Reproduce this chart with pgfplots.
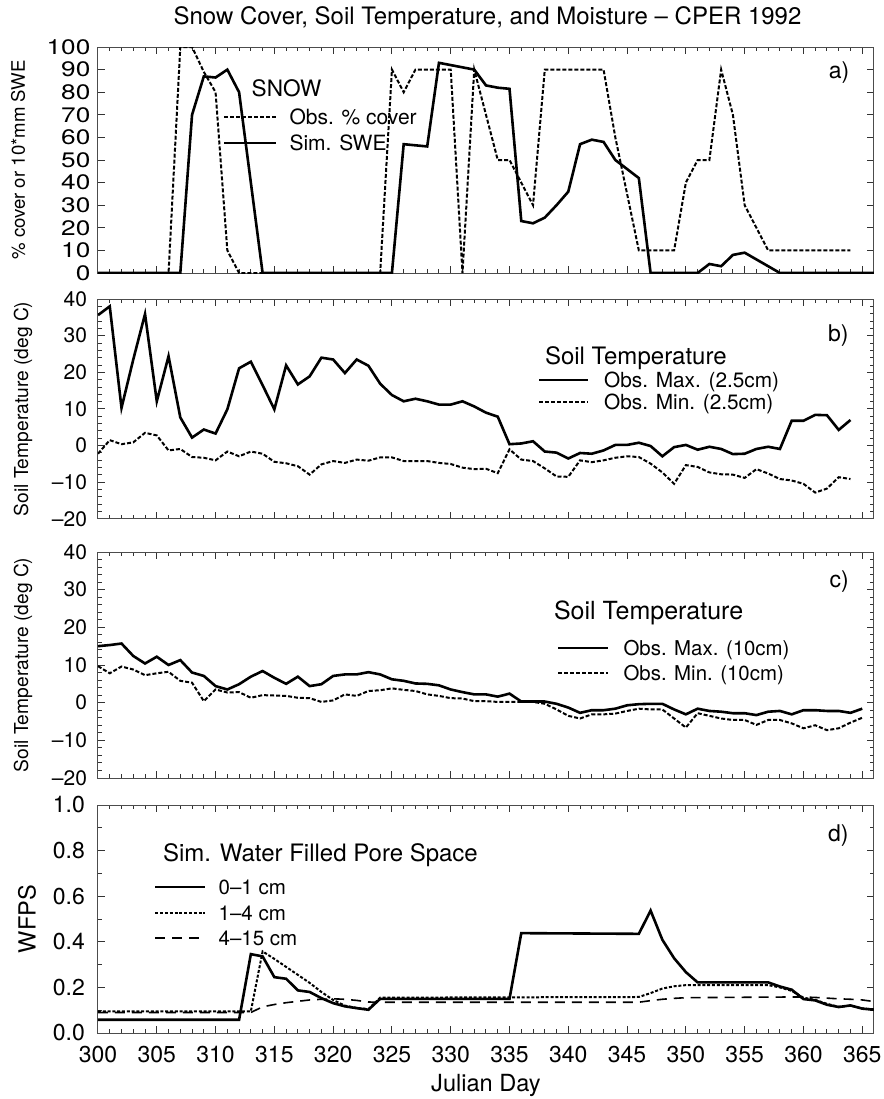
\documentclass[border=0pt]{standalone}
\usepackage{fontspec}
\setmainfont{TeX Gyre Heros}
\usepackage{pgfplots}
\pgfplotsset{compat=1.18}
\newcommand{\fs}[1]{\fontsize{#1}{#1}\selectfont}
\pgfplotsset{
  panel/.style={
    scale only axis, width=388pt,
    xmin=300, xmax=366,
    xtick={300,305,...,365}, minor x tick num=4,
    tick align=inside,
    major tick length=3.5pt, minor tick length=1.8pt,
    axis line style={black!70, line width=0.5pt},
    every tick/.style={black!80, line width=0.5pt},
    /pgf/number format/assume math mode=true,
    legend cell align=left,
  },
  leg/.style n args={4}{% x, y, rowsep, font
    legend style={draw=none, fill=none, inner sep=0pt, outer sep=0pt,
      row sep=#3, column sep=0pt, at={(#1,#2)}, anchor=north west,
      font=#4, nodes={inner sep=0pt, text height=7.5pt, text depth=0pt}},
  },
  solidl/.style={black, line width=1.3pt},
  dashl/.style={black, line width=1pt, dash pattern=on 2pt off 1pt},
}
\begin{document}
\begin{tikzpicture}
\useasboundingbox (-49pt,23.5pt) rectangle (393pt,-526pt);
\node[font=\fs{12}] at (194.75pt,14.5pt) {Snow Cover, Soil Temperature, and Moisture – CPER 1992};

% ---------------- a) ----------------
\begin{axis}[panel, at={(0pt,0pt)}, anchor=north west, height=113pt,
  ymin=0, ymax=100, ytick={0,10,...,100}, xticklabels={},
  yticklabel style={font=\fs{10.5}, xscale=1.25, inner ysep=0pt, xshift=0.5pt},
  ylabel={\% cover or 10*mm SWE}, ylabel style={font=\fs{9.3}, at={(axis description cs:-0.103,0.5)}, anchor=center},
  leg={0.161}{0.723}{5.5pt}{\fs{10.5}},
  legend image code/.code={\draw[#1] (0pt,0pt) -- (26pt,0pt); \path (0pt,0pt) (32pt,0pt);},
]
\addplot[dashl] table {
300 0
306 0
307 100
308 100
309 89
310 80
311 10
312 0
324 0
325 90
326 80
327 90
330 90
331 0
332 90
333 70
334 50
335 50
336 40
337 30
338 90
343 90
344 60
345 35
346 10
349 10
350 40
351 50
352 50
353 90
354 70
355 30
356 20
357 10
364 10
};
\addlegendentry{Obs. \% cover}
\addplot[solidl] table {
300 0
307 0
308 70
309 87
310 86.5
311 90
312 80
313 40
314 0
325 0
326 57
327 56.5
328 56
329 93
330 92
331 91
332 90
333 83
334 82
335 81.5
336 23
337 22
338 24.5
339 30
340 36
341 57
342 59
343 58
344 50
345 46
346 42
347 0
351 0
352 4
353 3
354 8
355 9
356 6
357 3
358 0
366 0
};
\addlegendentry{Sim. SWE}
\node[font=\fs{11.3}, anchor=west] at (rel axis cs:0.189,0.816) {SNOW};
\node[font=\fs{11.5}] at (rel axis cs:0.955,0.889) {a)};
\end{axis}

% ---------------- b) ----------------
\begin{axis}[panel, at={(0pt,-126pt)}, anchor=north west, height=110pt,
  ymin=-20, ymax=40, ytick={-20,-10,...,40}, yticklabels={–20,–10,0,10,20,30,40},
  minor y tick num=4, xticklabels={},
  yticklabel style={font=\fs{10.5}, xshift=-2pt},
  ylabel={Soil Temperature (deg C)}, ylabel style={font=\fs{9.6}, at={(axis description cs:-0.0967,0.5)}, anchor=center},
  leg={0.567}{0.666}{3.35pt}{\fs{10.4}},
  legend image code/.code={\draw[#1] (0pt,0pt) -- (24.5pt,0pt); \path (0pt,0pt) (31.8pt,0pt);},
]
\addplot[solidl] table {
300 35.6
301 38.0
302 10.3
303 23.5
304 35.9
305 12.1
306 24.4
307 7.7
308 2.2
309 4.4
310 3.3
311 9.9
312 21.1
313 22.9
314 16.5
315 9.9
316 21.9
317 16.7
318 18.9
319 24.0
320 23.5
321 19.8
322 23.5
323 21.8
324 16.9
325 13.8
326 12.1
327 12.8
328 12.1
329 11.2
330 11.2
331 12.1
332 10.7
333 9.0
334 7.9
335 0.4
336 0.6
337 1.2
338 -1.6
339 -1.9
340 -3.5
341 -2.0
342 -2.2
343 -1.3
344 0.2
345 0.2
346 0.8
347 -0.1
348 -2.9
349 -0.4
350 0.2
351 -1.1
352 -0.3
353 -0.9
354 -2.3
355 -2.2
356 -0.9
357 -0.3
358 -0.9
359 6.8
360 6.8
361 8.4
362 8.3
363 4.3
364 7.0
};
\addlegendentry{Obs. Max. (2.5cm)}
\addplot[dashl] table {
300 -2.2
301 1.5
302 0.4
303 0.9
304 3.5
305 2.8
306 -1.3
307 -0.9
308 -3.1
309 -3.3
310 -4.0
311 -1.6
312 -2.9
313 -1.6
314 -2.2
315 -4.4
316 -4.8
317 -5.6
318 -7.9
319 -5.1
320 -4.2
321 -4.7
322 -3.8
323 -4.1
324 -3.2
325 -3.2
326 -4.2
327 -4.2
328 -4.2
329 -4.7
330 -5.0
331 -6.0
332 -6.4
333 -6.3
334 -7.5
335 -1.0
336 -3.8
337 -4.2
338 -6.2
339 -8.4
340 -8.5
341 -4.0
342 -4.5
343 -4.0
344 -3.3
345 -2.9
346 -3.1
347 -4.9
348 -7.3
349 -10.4
350 -5.3
351 -5.8
352 -7.3
353 -7.8
354 -7.9
355 -8.8
356 -6.4
357 -7.6
358 -9.1
359 -9.5
360 -10.4
361 -12.8
362 -11.7
363 -8.6
364 -9.1
};
\addlegendentry{Obs. Min. (2.5cm)}
\node[font=\fs{12}, anchor=west] at (rel axis cs:0.567,0.732) {Soil Temperature};
\node[font=\fs{11.5}] at (rel axis cs:0.954,0.836) {b)};
\end{axis}

% ---------------- c) ----------------
\begin{axis}[panel, at={(0pt,-252.5pt)}, anchor=north west, height=113pt,
  ymin=-20, ymax=40, ytick={-20,-10,...,40}, yticklabels={–20,–10,0,10,20,30,40},
  minor y tick num=4, xticklabels={},
  yticklabel style={font=\fs{10.5}, xshift=-2pt},
  ylabel={Soil Temperature (deg C)}, ylabel style={font=\fs{9.6}, at={(axis description cs:-0.0967,0.5)}, anchor=center},
  leg={0.5915}{0.608}{5pt}{\fs{10.2}},
  legend image code/.code={\draw[#1] (0pt,0pt) -- (25pt,0pt); \path (0pt,0pt) (32pt,0pt);},
]
\addplot[solidl] table {
300 15.0
301 15.3
302 15.7
303 12.4
304 10.4
305 12.2
306 10.0
307 11.3
308 8.0
309 7.1
310 4.4
311 3.5
312 4.9
313 6.9
314 8.4
315 6.6
316 5.0
317 6.9
318 4.4
319 4.9
320 7.1
321 7.5
322 7.5
323 8.1
324 7.5
325 6.2
326 5.8
327 5.1
328 5.0
329 4.6
330 3.5
331 2.8
332 2.2
333 2.2
334 1.6
335 2.4
336 0.3
337 0.3
338 0.3
339 -0.3
340 -1.3
341 -2.7
342 -2.0
343 -2.0
344 -1.6
345 -0.7
346 -0.4
347 -0.3
348 -0.3
349 -1.8
350 -3.1
351 -1.6
352 -2.2
353 -2.4
354 -2.8
355 -2.8
356 -3.3
357 -2.4
358 -2.2
359 -3.1
360 -2.0
361 -2.0
362 -2.2
363 -2.2
364 -2.7
365 -1.6
};
\addlegendentry{Obs. Max. (10cm)}
\addplot[dashl] table {
300 9.7
301 7.8
302 9.6
303 8.8
304 7.3
305 7.8
306 8.2
307 5.8
308 5.3
309 0.4
310 3.5
311 2.7
312 2.8
313 1.3
314 2.0
315 1.9
316 1.8
317 1.3
318 1.2
319 0.2
320 0.6
321 2.2
322 1.8
323 3.1
324 3.3
325 3.8
326 3.4
327 3.1
328 2.2
329 1.8
330 1.2
331 1.1
332 0.4
333 0.4
334 0.2
335 0.2
336 0.2
337 0.2
338 -0.3
339 -1.8
340 -3.5
341 -4.2
342 -3.1
343 -3.1
344 -2.9
345 -2.2
346 -1.6
347 -1.8
348 -1.8
349 -4.2
350 -6.6
351 -2.8
352 -3.5
353 -4.2
354 -4.6
355 -4.6
356 -5.9
357 -4.6
358 -4.6
359 -5.5
360 -6.8
361 -6.0
362 -7.3
363 -6.8
364 -5.3
365 -4.0
};
\addlegendentry{Obs. Min. (10cm)}
\node[font=\fs{12.5}, anchor=west] at (rel axis cs:0.5786,0.730) {Soil Temperature};
\node[font=\fs{11.5}] at (rel axis cs:0.955,0.869) {c)};
\end{axis}

% ---------------- d) ----------------
\begin{axis}[panel, at={(0pt,-379pt)}, anchor=north west, height=114pt,
  ymin=0, ymax=1, ytick={0,0.2,...,1.0}, yticklabels={0.0,0.2,0.4,0.6,0.8,1.0},
  minor y tick num=1,
  xticklabel style={font=\fs{11.5}, yshift=-3pt},
  yticklabel style={font=\fs{11.5}, xshift=-3pt},
  xlabel={Julian Day}, xlabel style={font=\fs{11.8}, at={(axis description cs:0.5,-0.228)}, anchor=center},
  ylabel={WFPS}, ylabel style={font=\fs{11.8}, at={(axis description cs:-0.0915,0.5)}, anchor=center},
  leg={0.0722}{0.673}{5.25pt}{\fs{10.25}},
  legend image code/.code={\draw[#1] (0pt,0pt) -- (25pt,0pt); \path (0pt,0pt) (31pt,0pt);},
]
\addplot[solidl] table {
300 0.058
312 0.058
313 0.346
314 0.336
315 0.245
316 0.238
317 0.187
318 0.180
319 0.153
320 0.131
321 0.117
322 0.109
323 0.102
324 0.150
335 0.150
336 0.438
346 0.435
347 0.537
348 0.409
349 0.328
350 0.267
351 0.222
357 0.222
358 0.204
359 0.190
360 0.149
361 0.143
362 0.124
363 0.114
364 0.121
365 0.107
366 0.102
};
\addlegendentry{0–1 cm}
\addplot[black, line width=1pt, dash pattern=on 1.5pt off 0.9pt] table {
300 0.095
313 0.095
314 0.358
315 0.325
316 0.290
317 0.255
318 0.220
319 0.180
320 0.145
321 0.120
322 0.110
323 0.105
324 0.155
346 0.158
347 0.175
348 0.195
349 0.205
350 0.210
357 0.210
358 0.200
359 0.185
360 0.155
361 0.145
362 0.128
363 0.115
364 0.120
365 0.108
366 0.104
};
\addlegendentry{1–4 cm}
\addplot[black, line width=0.8pt, dash pattern=on 5pt off 3.5pt] table {
300 0.090
313 0.090
314 0.115
315 0.125
316 0.133
317 0.139
318 0.145
319 0.148
320 0.150
321 0.148
322 0.143
323 0.136
324 0.135
346 0.135
347 0.142
348 0.148
349 0.152
350 0.155
359 0.158
360 0.158
361 0.156
362 0.153
363 0.150
364 0.148
365 0.145
366 0.138
};
\addlegendentry{4–15 cm}
\node[font=\fs{12}, anchor=west] at (rel axis cs:0.0747,0.781) {Sim. Water Filled Pore Space};
\node[font=\fs{11.5}] at (rel axis cs:0.954,0.868) {d)};
\end{axis}
\end{tikzpicture}
\end{document}
